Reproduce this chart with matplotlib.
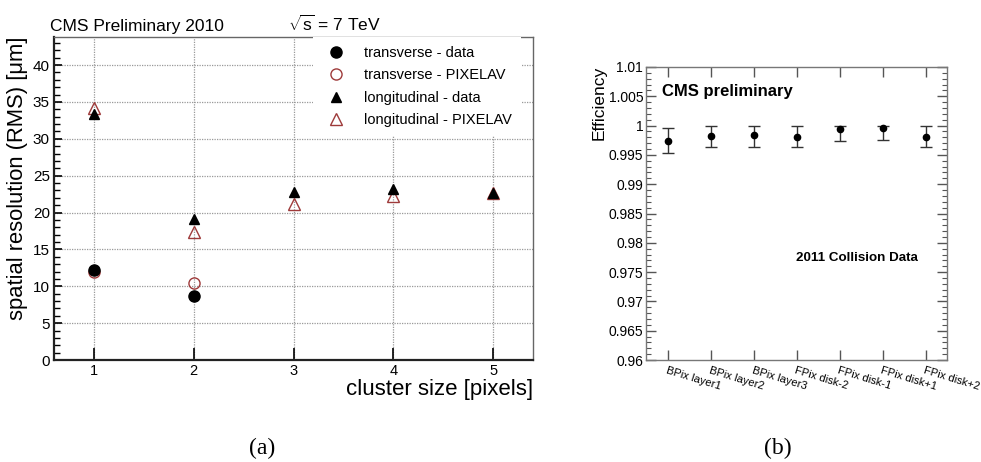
import numpy as np
import matplotlib
matplotlib.use("Agg")
import matplotlib.pyplot as plt
from matplotlib.ticker import MultipleLocator, FuncFormatter
from matplotlib.lines import Line2D

plt.rcParams['font.family'] = ['Liberation Sans', 'DejaVu Sans']
plt.rcParams['mathtext.fontset'] = 'custom'
plt.rcParams['mathtext.rm'] = 'Liberation Sans'
plt.rcParams['mathtext.it'] = 'Liberation Sans'

# --- (a) spatial resolution vs cluster size ---
cluster_size = [1, 2, 3, 4, 5]
trans_data = [12.2, 8.7]
trans_pixelav = [12.0, 10.4]
long_data = [33.3, 19.1, 22.8, 23.2, 22.7]
long_pixelav = [34.2, 17.3, 21.2, 22.2, 22.6]

# --- (b) efficiency per layer/disk ---
layers = ['BPix layer1', 'BPix layer2', 'BPix layer3', 'FPix disk-2',
          'FPix disk-1', 'FPix disk+1', 'FPix disk+2']
eff = [0.9974, 0.9982, 0.9984, 0.9981, 0.9994, 0.9996, 0.9981]
eff_lo = [0.9954, 0.9963, 0.9964, 0.9963, 0.9974, 0.9975, 0.9963]
eff_hi = [0.9996, 1.0, 1.0, 1.0, 1.0, 1.0, 1.0]

W, H = 981, 462
fig = plt.figure(figsize=(W / 100, H / 100), dpi=100)

def box(l, t, r, b):
    return [l / W, 1 - b / H, (r - l) / W, (b - t) / H]

red = '#9e3a3a'

# ---------------- panel (a)
ax = fig.add_axes(box(54, 37, 533, 360))
x1 = cluster_size[:len(trans_data)]
ax.plot(x1, trans_pixelav, 'o', ms=8, mfc='none', mec=red, mew=1.0, zorder=3)
ax.plot(cluster_size, long_pixelav, '^', ms=8.5, mfc='none', mec=red, mew=1.0, zorder=3)
ax.plot(x1, trans_data, 'o', ms=8, color='black', zorder=4)
ax.plot(cluster_size, long_data, '^', ms=7, color='black', zorder=4)

ax.set_xlim(0.6, 5.4)
ax.set_ylim(0, 43.8)
ax.set_xticks(cluster_size)
ax.yaxis.set_major_locator(MultipleLocator(5))
ax.yaxis.set_minor_locator(MultipleLocator(1))
ax.grid(True, which='major', linestyle=(0, (1, 1)), color='#999999', lw=0.9)
ax.tick_params(axis='x', direction='in', length=9, width=1.2, pad=3, labelsize=10.5)
ax.tick_params(axis='y', which='major', direction='in', length=6, width=1.2, pad=3, labelsize=11)
ax.tick_params(axis='y', which='minor', direction='in', length=4, width=1)
for s in ['left', 'bottom']:
    ax.spines[s].set_linewidth(1.6)
    ax.spines[s].set_color('#222222')
for s in ['top', 'right']:
    ax.spines[s].set_linewidth(1.0)
    ax.spines[s].set_color('#666666')

handles = [
    Line2D([], [], ls='none', marker='o', ms=8, color='black'),
    Line2D([], [], ls='none', marker='o', ms=8, mfc='none', mec=red),
    Line2D([], [], ls='none', marker='^', ms=7, color='black'),
    Line2D([], [], ls='none', marker='^', ms=8.5, mfc='none', mec=red),
]
labels = ['transverse - data', 'transverse - PIXELAV',
          'longitudinal - data', 'longitudinal - PIXELAV']
leg = ax.legend(handles, labels, loc='upper left',
                bbox_to_anchor=(313 / W, 1 - 37 / H), bbox_transform=fig.transFigure,
                frameon=True, facecolor='white', edgecolor='none', framealpha=1,
                fancybox=False, fontsize=10.5, borderpad=0.6, borderaxespad=0,
                handlelength=2.0, handletextpad=0.9, labelspacing=0.58)
leg.set_zorder(5)

fig.text(50 / W, 1 - 31 / H, 'CMS Preliminary 2010', fontsize=12.5, va='baseline')
fig.text(288 / W, 1 - 31 / H, r'$\sqrt{\mathrm{s}}$ = 7 TeV', fontsize=12.5, va='baseline')
fig.text(18 / W, 1 - 37 / H, 'spatial resolution (RMS) [μm]', rotation=90,
         ha='center', va='top', fontsize=15.8)
fig.text(533 / W, 1 - 389 / H, 'cluster size [pixels]', ha='right', va='center', fontsize=16)

# ---------------- panel (b)
bx = fig.add_axes(box(646, 67, 947, 360))
xi = np.arange(len(layers))
err = [np.array(eff) - np.array(eff_lo), np.array(eff_hi) - np.array(eff)]
bx.errorbar(xi, eff, yerr=err, fmt='o', ms=4.5, color='black', ecolor='#333333',
            elinewidth=1, capsize=4.5, capthick=1)
bx.set_xlim(-0.5, 6.5)
bx.set_ylim(0.96, 1.01)
bx.set_xticks(xi)
bx.set_xticklabels(layers, rotation=-17, ha='left', va='top', rotation_mode='anchor')
bx.yaxis.set_major_locator(MultipleLocator(0.005))
bx.yaxis.set_minor_locator(MultipleLocator(0.001))
bx.yaxis.set_major_formatter(FuncFormatter(lambda v, p: '{:g}'.format(round(v, 4))))
bx.tick_params(axis='x', direction='in', top=True, length=7, width=1, pad=4,
               labelsize=8.0, color='#555555')
bx.tick_params(axis='y', which='major', direction='in', right=True, length=7, width=1,
               pad=2, labelsize=10, color='#555555')
bx.tick_params(axis='y', which='minor', direction='in', right=True, length=3.5, width=0.8,
               color='#555555')
for s in bx.spines.values():
    s.set_color('#777777')
    s.set_linewidth(1.0)

bx.text(0.053, 0.918, 'CMS preliminary', transform=bx.transAxes, fontsize=12,
        fontweight='bold', va='center', ha='left')
bx.text(0.50, 0.348, '2011 Collision Data', transform=bx.transAxes, fontsize=9.6,
        fontweight='bold', va='center', ha='left')
fig.text(599 / W, 1 - 66 / H, 'Efficiency', rotation=90, ha='center', va='top', fontsize=12.5)

# captions
fig.text(262 / W, 1 - 448 / H, '(a)', ha='center', va='center', fontsize=17,
         family=['Liberation Serif', 'DejaVu Serif'])
fig.text(778 / W, 1 - 448 / H, '(b)', ha='center', va='center', fontsize=17,
         family=['Liberation Serif', 'DejaVu Serif'])

fig.savefig('out.png', dpi=100)
